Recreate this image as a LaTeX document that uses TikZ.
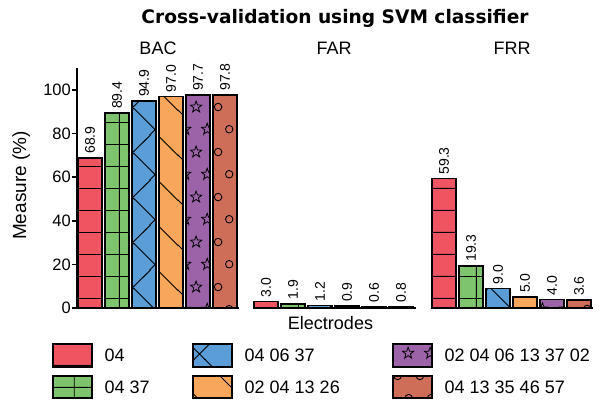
\documentclass[tikz,border=0pt]{standalone}
\usepackage{fontspec}
\setmainfont{Liberation Sans}
\newfontfamily\titlefont{DejaVu Sans}
\usetikzlibrary{patterns.meta}

\definecolor{red04}{HTML}{EF5561}
\definecolor{green04}{HTML}{7EC46C}
\definecolor{blue04}{HTML}{5B9DD6}
\definecolor{orange04}{HTML}{F8A65B}
\definecolor{purple04}{HTML}{9C63A9}
\definecolor{brown04}{HTML}{CE6E59}

% hatches, tied to the page like the plot's own
\tikzdeclarepattern{name=hlines, type=uncolored,
  bottom left={(0pt,0pt)}, top right={(22.3pt,22.3pt)}, tile size={(22.3pt,22.3pt)},
  code={\draw[line width=0.9pt] (-2pt,17pt) -- (25pt,17pt);}}
\tikzdeclarepattern{name=plusgrid, type=uncolored,
  bottom left={(0pt,0pt)}, top right={(22.3pt,22.3pt)}, tile size={(22.3pt,22.3pt)},
  code={\draw[line width=0.9pt] (-2pt,17pt) -- (25pt,17pt) (8.5pt,-2pt) -- (8.5pt,25pt);}}
\tikzdeclarepattern{name=xhatch, type=uncolored,
  bottom left={(0pt,0pt)}, top right={(44.6pt,44.6pt)}, tile size={(44.6pt,44.6pt)},
  code={\draw[line width=0.9pt] (31.6pt,-5pt) -- (-5pt,31.6pt) (76.2pt,-5pt) -- (-5pt,76.2pt)
    (-5pt,-20.8pt) -- (50pt,34.2pt) (-5pt,23.8pt) -- (50pt,78.8pt);}}
\tikzdeclarepattern{name=bslash, type=uncolored,
  bottom left={(0pt,0pt)}, top right={(44.6pt,44.6pt)}, tile size={(44.6pt,44.6pt)},
  code={\draw[line width=0.9pt] (30pt,-5pt) -- (-5pt,30pt) (74.6pt,-5pt) -- (-5pt,74.6pt);}}
\tikzdeclarepattern{name=starry, type=uncolored,
  bottom left={(0pt,0pt)}, top right={(22.3pt,44.6pt)}, tile size={(22.3pt,44.6pt)},
  code={\foreach \x/\y in {18.5/28.1,-3.8/28.1,7.35/5.8,7.35/50.4}
    \draw[line width=0.8pt,shift={(\x pt,\y pt)}] (90:6pt)
      \foreach \k in {1,...,5}{ -- (54+72*\k:2.5pt) -- (90+72*\k:6pt)} -- cycle;}}
\tikzdeclarepattern{name=rings, type=uncolored,
  bottom left={(0pt,0pt)}, top right={(22.3pt,44.6pt)}, tile size={(22.3pt,44.6pt)},
  code={\foreach \x/\y in {18.5/28.1,-3.8/28.1,7.35/5.8,7.35/50.4}
    \draw[line width=0.9pt] (\x pt,\y pt) circle[radius=3.8pt];}}

\tikzset{
  base/.style={draw=black, line width=1.5pt},
  bar04/.style={base, fill=red04, postaction={pattern=hlines}},
  bar0437/.style={base, fill=green04, postaction={pattern=plusgrid}},
  bar040637/.style={base, fill=blue04, postaction={pattern=xhatch}},
  bar02041326/.style={base, fill=orange04, postaction={pattern=bslash}},
  bar0204061337/.style={base, fill=purple04, postaction={pattern=starry}},
  bar0413354657/.style={base, fill=brown04, postaction={pattern=rings}},
  axis/.style={line width=1.5pt},
  val/.style={rotate=90, anchor=west, inner sep=4pt, font=\fontsize{14}{14}\selectfont},
  tick/.style={anchor=east, inner sep=0pt, font=\fontsize{16.5}{16.5}\selectfont},
  lbl/.style={inner sep=0pt, font=\fontsize{18}{18}\selectfont},
  leg/.style={lbl, anchor=west},
}

\begin{document}
\begin{tikzpicture}[x=1pt,y=1pt]
  \useasboundingbox (0,0) rectangle (605,404);
  \node[anchor=base, inner sep=0pt, font={\titlefont\bfseries\fontsize{18.6}{18.6}\selectfont}] (title) at (335,380.7) {Cross-validation using SVM classifier};
  \node[lbl, anchor=base] (bac) at (158,349) {BAC};
  \node[lbl, anchor=base] (far) at (334,349) {FAR};
  \node[lbl, anchor=base] (frr) at (512,349) {FRR};
  \node[lbl, anchor=base, rotate=90, font=\fontsize{19}{19}\selectfont] (ylabel) at (26,218.5) {Measure (\%)};
  \node[lbl, anchor=base] (xlabel) at (330.5,74) {Electrodes};
  % BAC
  \begin{scope}[shift={(77,96)}, y=2.18pt]
    \draw[axis] (0,110) -- (0,0) -- (162,0);
    \foreach \t in {0,20,...,100} {
      \draw[axis] (-5,\t) -- (0,\t);
      \node[tick] (tick\t) at (-6,\t) {\t};
    }
    \foreach \v/\s [count=\i] in {68.9/bar04,89.4/bar0437,94.9/bar040637,97.0/bar02041326,97.7/bar0204061337,97.8/bar0413354657} {
      \draw[\s] (27*\i-26,0) rectangle ++(24,\v);
      \node[val] (bac\i) at (27*\i-14,\v) {\v};
    }
  \end{scope}
  % FAR
  \begin{scope}[shift={(253,96)}, y=2.18pt]
    \foreach \v/\s [count=\i] in {3.0/bar04,1.9/bar0437,1.2/bar040637,0.9/bar02041326,0.6/bar0204061337,0.8/bar0413354657} {
      \draw[\s] (27*\i-26,0) rectangle ++(24,\v);
      \node[val] (far\i) at (27*\i-14,\v) {\v};
    }
    \draw[axis] (0,0) -- (163,0);
  \end{scope}
  % FRR
  \begin{scope}[shift={(431,96)}, y=2.18pt]
    \foreach \v/\s [count=\i] in {59.3/bar04,19.3/bar0437,9.0/bar040637,5.0/bar02041326,4.0/bar0204061337,3.6/bar0413354657} {
      \draw[\s] (27*\i-26,0) rectangle ++(24,\v);
      \node[val] (frr\i) at (27*\i-14,\v) {\v};
    }
    \draw[axis] (0,0) -- (162,0);
  \end{scope}
  % legend
  \draw[bar04] (53,37) rectangle (92,60);
  \node[leg] (leg1) at (104.5,48.5) {04};
  \draw[bar0437] (53,6) rectangle (92,28);
  \node[leg] (leg2) at (104.5,16.5) {04 37};
  \draw[bar040637] (193,37) rectangle (232,60);
  \node[leg] (leg3) at (244.5,48.5) {04 06 37};
  \draw[bar02041326] (193,6) rectangle (232,28);
  \node[leg] (leg4) at (244.5,16.5) {02 04 13 26};
  \draw[bar0204061337] (393,37) rectangle (432,60);
  \node[leg] (leg5) at (444.5,48.5) {02 04 06 13 37 02};
  \draw[bar0413354657] (393,6) rectangle (432,28);
  \node[leg] (leg6) at (444.5,16.5) {04 13 35 46 57};
\end{tikzpicture}
\end{document}
